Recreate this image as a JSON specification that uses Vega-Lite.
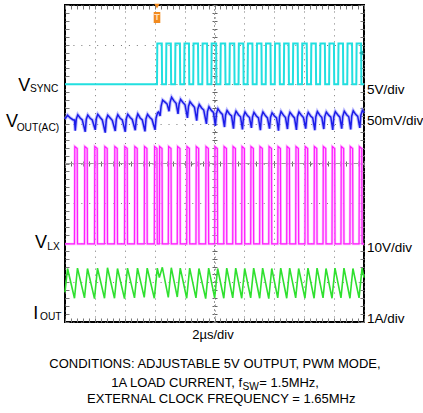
{
 "$schema": "https://vega.github.io/schema/vega-lite/v6.json",
 "width": 299,
 "height": 317,
 "autosize": "none",
 "padding": {"left": 65, "top": 5, "right": 59, "bottom": 91},
 "background": "white",
 "config": {"view": {"stroke": "black", "strokeWidth": 2}, "font": "Liberation Sans"},
 "datasets": {
  "vsync": [{"t":0,"v":6},
   {"t":6.154,"v":6},{"t":6.174,"v":7.03},{"t":6.474,"v":7.03},{"t":6.494,"v":6},
   {"t":6.76,"v":6},{"t":6.78,"v":7.03},{"t":7.08,"v":7.03},{"t":7.1,"v":6},
   {"t":7.366,"v":6},{"t":7.386,"v":7.03},{"t":7.686,"v":7.03},{"t":7.706,"v":6},
   {"t":7.972,"v":6},{"t":7.992,"v":7.03},{"t":8.292,"v":7.03},{"t":8.312,"v":6},
   {"t":8.578,"v":6},{"t":8.598,"v":7.03},{"t":8.898,"v":7.03},{"t":8.918,"v":6},
   {"t":9.184,"v":6},{"t":9.204,"v":7.03},{"t":9.504,"v":7.03},{"t":9.524,"v":6},
   {"t":9.79,"v":6},{"t":9.81,"v":7.03},{"t":10.11,"v":7.03},{"t":10.13,"v":6},
   {"t":10.396,"v":6},{"t":10.416,"v":7.03},{"t":10.716,"v":7.03},{"t":10.736,"v":6},
   {"t":11.002,"v":6},{"t":11.022,"v":7.03},{"t":11.322,"v":7.03},{"t":11.342,"v":6},
   {"t":11.608,"v":6},{"t":11.628,"v":7.03},{"t":11.928,"v":7.03},{"t":11.948,"v":6},
   {"t":12.214,"v":6},{"t":12.234,"v":7.03},{"t":12.534,"v":7.03},{"t":12.554,"v":6},
   {"t":12.82,"v":6},{"t":12.84,"v":7.03},{"t":13.14,"v":7.03},{"t":13.16,"v":6},
   {"t":13.426,"v":6},{"t":13.446,"v":7.03},{"t":13.746,"v":7.03},{"t":13.766,"v":6},
   {"t":14.032,"v":6},{"t":14.052,"v":7.03},{"t":14.352,"v":7.03},{"t":14.372,"v":6},
   {"t":14.638,"v":6},{"t":14.658,"v":7.03},{"t":14.958,"v":7.03},{"t":14.978,"v":6},
   {"t":15.244,"v":6},{"t":15.264,"v":7.03},{"t":15.564,"v":7.03},{"t":15.584,"v":6},
   {"t":15.85,"v":6},{"t":15.87,"v":7.03},{"t":16.17,"v":7.03},{"t":16.19,"v":6},
   {"t":16.456,"v":6},{"t":16.476,"v":7.03},{"t":16.776,"v":7.03},{"t":16.796,"v":6},
   {"t":17.062,"v":6},{"t":17.082,"v":7.03},{"t":17.382,"v":7.03},{"t":17.402,"v":6},
   {"t":17.668,"v":6},{"t":17.688,"v":7.03},{"t":17.988,"v":7.03},{"t":18.008,"v":6},
   {"t":18.274,"v":6},{"t":18.294,"v":7.03},{"t":18.594,"v":7.03},{"t":18.614,"v":6},
   {"t":18.88,"v":6},{"t":18.9,"v":7.03},{"t":19.2,"v":7.03},{"t":19.22,"v":6},
   {"t":19.486,"v":6},{"t":19.506,"v":7.03},{"t":19.806,"v":7.03},{"t":19.826,"v":6},
   {"t":20,"v":6}],
  "vout": [{"t":0,"v":5.12},{"t":0.17,"v":5.22},{"t":0.35,"v":5.15},{"t":0.55,"v":5.1},{"t":0.635,"v":5.1},
   {"t":0.685,"v":4.83},{"t":0.755,"v":5.12},{"t":0.855,"v":5.23},{"t":1.015,"v":5.15},{"t":1.155,"v":5.1},
   {"t":1.354,"v":4.8},{"t":1.424,"v":5.12},{"t":1.524,"v":5.22},{"t":1.684,"v":5.14},{"t":1.824,"v":5.1},
   {"t":2.023,"v":4.85},{"t":2.093,"v":5.13},{"t":2.193,"v":5.24},{"t":2.353,"v":5.16},{"t":2.493,"v":5.1},
   {"t":2.692,"v":4.78},{"t":2.762,"v":5.11},{"t":2.862,"v":5.22},{"t":3.022,"v":5.15},{"t":3.162,"v":5.09},
   {"t":3.361,"v":4.82},{"t":3.431,"v":5.12},{"t":3.531,"v":5.23},{"t":3.691,"v":5.14},{"t":3.831,"v":5.1},
   {"t":4.03,"v":4.8},{"t":4.1,"v":5.13},{"t":4.2,"v":5.24},{"t":4.36,"v":5.16},{"t":4.5,"v":5.11},
   {"t":4.699,"v":4.84},{"t":4.769,"v":5.12},{"t":4.869,"v":5.25},{"t":5.029,"v":5.15},{"t":5.169,"v":5.1},
   {"t":5.35,"v":4.81},{"t":5.42,"v":5.13},{"t":5.52,"v":5.24},{"t":5.68,"v":5.16},{"t":5.82,"v":5.11},
   {"t":6.023,"v":4.85},{"t":6.093,"v":5.15},{"t":6.193,"v":5.28},{"t":6.26,"v":5.3},
   {"t":6.36,"v":5.2},{"t":6.43,"v":5.45},{"t":6.53,"v":5.6},{"t":6.69,"v":5.55},{"t":6.83,"v":5.5},
   {"t":6.96,"v":5.32},{"t":7.03,"v":5.55},{"t":7.13,"v":5.67},{"t":7.29,"v":5.58},{"t":7.43,"v":5.52},
   {"t":7.56,"v":5.25},{"t":7.63,"v":5.5},{"t":7.73,"v":5.62},{"t":7.89,"v":5.54},{"t":8.03,"v":5.48},
   {"t":8.19,"v":5.15},{"t":8.26,"v":5.44},{"t":8.36,"v":5.56},{"t":8.52,"v":5.48},{"t":8.66,"v":5.42},
   {"t":8.81,"v":5.08},{"t":8.88,"v":5.37},{"t":8.98,"v":5.49},{"t":9.14,"v":5.4},{"t":9.28,"v":5.35},
   {"t":9.46,"v":5.0},{"t":9.53,"v":5.31},{"t":9.63,"v":5.43},{"t":9.79,"v":5.34},{"t":9.93,"v":5.29},
   {"t":10.06,"v":4.95},{"t":10.13,"v":5.26},{"t":10.23,"v":5.38},{"t":10.39,"v":5.29},{"t":10.53,"v":5.24},
   {"t":10.67,"v":4.92},{"t":10.74,"v":5.22},{"t":10.84,"v":5.34},{"t":11.0,"v":5.25},{"t":11.14,"v":5.2},
   {"t":11.27,"v":4.88},{"t":11.34,"v":5.2},{"t":11.44,"v":5.32},{"t":11.6,"v":5.23},{"t":11.74,"v":5.18},
   {"t":11.87,"v":4.86},{"t":11.94,"v":5.18},{"t":12.04,"v":5.3},{"t":12.2,"v":5.21},{"t":12.34,"v":5.16},
   {"t":12.47,"v":4.9},{"t":12.54,"v":5.17},{"t":12.64,"v":5.29},{"t":12.8,"v":5.2},{"t":12.94,"v":5.15},
   {"t":13.07,"v":4.84},{"t":13.14,"v":5.18},{"t":13.24,"v":5.3},{"t":13.4,"v":5.21},{"t":13.54,"v":5.15},
   {"t":13.68,"v":4.88},{"t":13.75,"v":5.17},{"t":13.85,"v":5.28},{"t":14.01,"v":5.2},{"t":14.15,"v":5.15},
   {"t":14.28,"v":4.83},{"t":14.35,"v":5.18},{"t":14.45,"v":5.31},{"t":14.61,"v":5.22},{"t":14.75,"v":5.16},
   {"t":14.88,"v":4.87},{"t":14.95,"v":5.17},{"t":15.05,"v":5.29},{"t":15.21,"v":5.21},{"t":15.35,"v":5.15},
   {"t":15.48,"v":4.85},{"t":15.55,"v":5.18},{"t":15.65,"v":5.3},{"t":15.81,"v":5.22},{"t":15.95,"v":5.16},
   {"t":16.1,"v":4.88},{"t":16.17,"v":5.17},{"t":16.27,"v":5.29},{"t":16.43,"v":5.2},{"t":16.57,"v":5.15},
   {"t":16.71,"v":4.84},{"t":16.78,"v":5.18},{"t":16.88,"v":5.31},{"t":17.04,"v":5.22},{"t":17.18,"v":5.16},
   {"t":17.31,"v":4.87},{"t":17.38,"v":5.19},{"t":17.48,"v":5.3},{"t":17.64,"v":5.22},{"t":17.78,"v":5.17},
   {"t":17.91,"v":4.85},{"t":17.98,"v":5.18},{"t":18.08,"v":5.31},{"t":18.24,"v":5.23},{"t":18.38,"v":5.17},
   {"t":18.51,"v":4.88},{"t":18.58,"v":5.19},{"t":18.68,"v":5.32},{"t":18.84,"v":5.23},{"t":18.98,"v":5.18},
   {"t":19.11,"v":4.86},{"t":19.18,"v":5.2},{"t":19.28,"v":5.33},{"t":19.44,"v":5.24},{"t":19.58,"v":5.19},
   {"t":19.72,"v":4.9},{"t":19.79,"v":5.22},{"t":19.89,"v":5.34},{"t":20,"v":5.28}],
  "vlx": [{"t":0,"v":1.97},
   {"t":0.635,"v":1.97},{"t":0.655,"v":4.43},{"t":0.815,"v":4.38},{"t":0.835,"v":1.97},
   {"t":1.304,"v":1.97},{"t":1.324,"v":4.43},{"t":1.484,"v":4.38},{"t":1.504,"v":1.97},
   {"t":1.973,"v":1.97},{"t":1.993,"v":4.43},{"t":2.153,"v":4.38},{"t":2.173,"v":1.97},
   {"t":2.642,"v":1.97},{"t":2.662,"v":4.43},{"t":2.822,"v":4.38},{"t":2.842,"v":1.97},
   {"t":3.311,"v":1.97},{"t":3.331,"v":4.43},{"t":3.491,"v":4.38},{"t":3.511,"v":1.97},
   {"t":3.98,"v":1.97},{"t":4.0,"v":4.43},{"t":4.16,"v":4.38},{"t":4.18,"v":1.97},
   {"t":4.649,"v":1.97},{"t":4.669,"v":4.43},{"t":4.829,"v":4.38},{"t":4.849,"v":1.97},
   {"t":5.3,"v":1.97},{"t":5.32,"v":4.43},{"t":5.48,"v":4.38},{"t":5.5,"v":1.97},
   {"t":5.973,"v":1.97},{"t":5.993,"v":4.43},{"t":6.153,"v":4.38},{"t":6.173,"v":1.97},
   {"t":6.31,"v":1.97},{"t":6.33,"v":4.43},{"t":6.49,"v":4.38},{"t":6.51,"v":1.97},
   {"t":6.91,"v":1.97},{"t":6.93,"v":4.43},{"t":7.09,"v":4.38},{"t":7.11,"v":1.97},
   {"t":7.51,"v":1.97},{"t":7.53,"v":4.43},{"t":7.69,"v":4.38},{"t":7.71,"v":1.97},
   {"t":8.14,"v":1.97},{"t":8.16,"v":4.43},{"t":8.32,"v":4.38},{"t":8.34,"v":1.97},
   {"t":8.76,"v":1.97},{"t":8.78,"v":4.43},{"t":8.94,"v":4.38},{"t":8.96,"v":1.97},
   {"t":9.41,"v":1.97},{"t":9.43,"v":4.43},{"t":9.59,"v":4.38},{"t":9.61,"v":1.97},
   {"t":10.01,"v":1.97},{"t":10.03,"v":4.43},{"t":10.19,"v":4.38},{"t":10.21,"v":1.97},
   {"t":10.62,"v":1.97},{"t":10.64,"v":4.43},{"t":10.8,"v":4.38},{"t":10.82,"v":1.97},
   {"t":11.22,"v":1.97},{"t":11.24,"v":4.43},{"t":11.4,"v":4.38},{"t":11.42,"v":1.97},
   {"t":11.82,"v":1.97},{"t":11.84,"v":4.43},{"t":12.0,"v":4.38},{"t":12.02,"v":1.97},
   {"t":12.42,"v":1.97},{"t":12.44,"v":4.43},{"t":12.6,"v":4.38},{"t":12.62,"v":1.97},
   {"t":13.02,"v":1.97},{"t":13.04,"v":4.43},{"t":13.2,"v":4.38},{"t":13.22,"v":1.97},
   {"t":13.63,"v":1.97},{"t":13.65,"v":4.43},{"t":13.81,"v":4.38},{"t":13.83,"v":1.97},
   {"t":14.23,"v":1.97},{"t":14.25,"v":4.43},{"t":14.41,"v":4.38},{"t":14.43,"v":1.97},
   {"t":14.83,"v":1.97},{"t":14.85,"v":4.43},{"t":15.01,"v":4.38},{"t":15.03,"v":1.97},
   {"t":15.43,"v":1.97},{"t":15.45,"v":4.43},{"t":15.61,"v":4.38},{"t":15.63,"v":1.97},
   {"t":16.05,"v":1.97},{"t":16.07,"v":4.43},{"t":16.23,"v":4.38},{"t":16.25,"v":1.97},
   {"t":16.66,"v":1.97},{"t":16.68,"v":4.43},{"t":16.84,"v":4.38},{"t":16.86,"v":1.97},
   {"t":17.26,"v":1.97},{"t":17.28,"v":4.43},{"t":17.44,"v":4.38},{"t":17.46,"v":1.97},
   {"t":17.86,"v":1.97},{"t":17.88,"v":4.43},{"t":18.04,"v":4.38},{"t":18.06,"v":1.97},
   {"t":18.46,"v":1.97},{"t":18.48,"v":4.43},{"t":18.64,"v":4.38},{"t":18.66,"v":1.97},
   {"t":19.06,"v":1.97},{"t":19.08,"v":4.43},{"t":19.24,"v":4.38},{"t":19.26,"v":1.97},
   {"t":19.67,"v":1.97},{"t":19.69,"v":4.43},{"t":19.85,"v":4.38},{"t":19.87,"v":1.97},
   {"t":20,"v":1.97}],
  "iout": [{"t":0,"v":0.75},{"t":0.17,"v":1.35},
   {"t":0.635,"v":0.6},{"t":0.835,"v":1.36},{"t":1.304,"v":0.61},{"t":1.504,"v":1.35},
   {"t":1.973,"v":0.59},{"t":2.173,"v":1.36},{"t":2.642,"v":0.6},{"t":2.842,"v":1.37},
   {"t":3.311,"v":0.6},{"t":3.511,"v":1.35},{"t":3.98,"v":0.59},{"t":4.18,"v":1.36},
   {"t":4.649,"v":0.61},{"t":4.849,"v":1.36},{"t":5.3,"v":0.62},{"t":5.5,"v":1.36},
   {"t":5.973,"v":0.6},{"t":6.173,"v":1.36},{"t":6.31,"v":1.12},{"t":6.51,"v":1.38},
   {"t":6.91,"v":0.62},{"t":7.11,"v":1.37},{"t":7.51,"v":0.63},{"t":7.71,"v":1.36},
   {"t":8.14,"v":0.6},{"t":8.34,"v":1.36},{"t":8.76,"v":0.61},{"t":8.96,"v":1.35},
   {"t":9.41,"v":0.59},{"t":9.61,"v":1.36},{"t":10.01,"v":0.61},{"t":10.21,"v":1.35},
   {"t":10.62,"v":0.6},{"t":10.82,"v":1.36},{"t":11.22,"v":0.61},{"t":11.42,"v":1.36},
   {"t":11.82,"v":0.6},{"t":12.02,"v":1.35},{"t":12.42,"v":0.61},{"t":12.62,"v":1.36},
   {"t":13.02,"v":0.6},{"t":13.22,"v":1.36},{"t":13.63,"v":0.59},{"t":13.83,"v":1.35},
   {"t":14.23,"v":0.61},{"t":14.43,"v":1.36},{"t":14.83,"v":0.6},{"t":15.03,"v":1.36},
   {"t":15.43,"v":0.61},{"t":15.63,"v":1.35},{"t":16.05,"v":0.6},{"t":16.25,"v":1.36},
   {"t":16.66,"v":0.6},{"t":16.86,"v":1.36},{"t":17.26,"v":0.61},{"t":17.46,"v":1.35},
   {"t":17.86,"v":0.6},{"t":18.06,"v":1.36},{"t":18.46,"v":0.61},{"t":18.66,"v":1.36},
   {"t":19.06,"v":0.6},{"t":19.26,"v":1.35},{"t":19.67,"v":0.61},{"t":19.87,"v":1.36},
   {"t":20,"v":1.12}],
  "lblMain": [{"t":-3.124,"v":5.83,"txt":"V"},{"t":-3.946,"v":4.929,"txt":"V"},{"t":-2.007,"v":1.86,"txt":"V"},{"t":-2.12,"v":0.068,"txt":"I"}],
  "lblSub": [{"t":-2.341,"v":5.804,"txt":"SYNC"},{"t":-3.231,"v":4.828,"txt":"OUT(AC)"},{"t":-1.184,"v":1.817,"txt":"LX"},{"t":-1.672,"v":0.05,"txt":"OUT"}],
  "lblRight": [{"t":20.2,"v":5.754,"txt":"5V/div"},{"t":20.2,"v":4.972,"txt":"50mV/div"},{"t":20.2,"v":1.767,"txt":"10V/div"},{"t":20.2,"v":-0.025,"txt":"1A/div"}],
  "lblCenter": [{"t":9.9,"v":-0.429,"txt":"2µs/div"},{"t":10.03,"v":-1.153,"txt":"CONDITIONS: ADJUSTABLE 5V OUTPUT, PWM MODE,"},{"t":10.45,"v":-2.052,"txt":"EXTERNAL CLOCK FREQUENCY = 1.65MHz"}]
 },
 "resolve": {"axis": {"x": "independent", "y": "independent"}},
 "layer": [
  {"data": {"values": [{"v": 4}]},
   "mark": {"type": "rule", "color": "#9a9a9a", "strokeWidth": 1},
   "encoding": {"y": {"field": "v", "type": "quantitative", "scale": {"domain": [0, 8], "nice": false, "zero": false}, "axis": null}}},
  {"data": {"values": [{"t": 10}]},
   "mark": {"type": "rule", "color": "#9a9a9a", "strokeWidth": 1, "strokeDash": [2, 2]},
   "encoding": {"x": {"field": "t", "type": "quantitative", "scale": {"domain": [0, 20], "nice": false, "zero": false}, "axis": null}}},
  {"data": {"name": "vsync"},
   "mark": {"type": "line", "color": "#22dfe0", "strokeWidth": 2},
   "encoding": {
    "x": {"field": "t", "type": "quantitative", "scale": {"domain": [0, 20], "nice": false, "zero": false},
     "axis": {"values": [0,2,4,6,8,10,12,14,16,18,20], "grid": true, "gridDash": [1, 4.98], "gridColor": "#777", "gridOpacity": 1, "ticks": false, "labels": false, "domain": false, "title": null}},
    "y": {"field": "v", "type": "quantitative", "scale": {"domain": [0, 8], "nice": false, "zero": false},
     "axis": {"values": [0,1,2,3,4,5,6,7,8], "grid": true, "gridDash": [1, 6.925], "gridColor": "#777", "gridOpacity": 1, "ticks": false, "labels": false, "domain": false, "title": null}}}},
  {"data": {"name": "vout"},
   "mark": {"type": "line", "color": "#8c8cff", "strokeWidth": 3.5, "opacity": 0.55},
   "encoding": {
    "x": {"field": "t", "type": "quantitative", "scale": {"domain": [0, 20], "nice": false, "zero": false},
     "axis": {"orient": "bottom", "offset": -4, "values": [0,0.4,0.8,1.2,1.6,2,2.4,2.8,3.2,3.6,4,4.4,4.8,5.2,5.6,6,6.4,6.8,7.2,7.6,8,8.4,8.8,9.2,9.6,10,10.4,10.8,11.2,11.6,12,12.4,12.8,13.2,13.6,14,14.4,14.8,15.2,15.6,16,16.4,16.8,17.2,17.6,18,18.4,18.8,19.2,19.6,20], "tickSize": 4, "tickColor": "#777", "grid": false, "labels": false, "domain": false, "title": null}},
    "y": {"field": "v", "type": "quantitative", "scale": {"domain": [0, 8], "nice": false, "zero": false},
     "axis": {"orient": "left", "offset": -4, "values": [0,0.2,0.4,0.6,0.8,1,1.2,1.4,1.6,1.8,2,2.2,2.4,2.6,2.8,3,3.2,3.4,3.6,3.8,4,4.2,4.4,4.6,4.8,5,5.2,5.4,5.6,5.8,6,6.2,6.4,6.6,6.8,7,7.2,7.4,7.6,7.8,8], "tickSize": 4, "tickColor": "#777", "grid": false, "labels": false, "domain": false, "title": null}}}},
  {"data": {"name": "vout"},
   "mark": {"type": "line", "color": "#1c1ce8", "strokeWidth": 1.5},
   "encoding": {
    "x": {"field": "t", "type": "quantitative", "scale": {"domain": [0, 20], "nice": false, "zero": false},
     "axis": {"orient": "top", "offset": -4, "values": [0,0.4,0.8,1.2,1.6,2,2.4,2.8,3.2,3.6,4,4.4,4.8,5.2,5.6,6,6.4,6.8,7.2,7.6,8,8.4,8.8,9.2,9.6,10,10.4,10.8,11.2,11.6,12,12.4,12.8,13.2,13.6,14,14.4,14.8,15.2,15.6,16,16.4,16.8,17.2,17.6,18,18.4,18.8,19.2,19.6,20], "tickSize": 4, "tickColor": "#777", "grid": false, "labels": false, "domain": false, "title": null}},
    "y": {"field": "v", "type": "quantitative", "scale": {"domain": [0, 8], "nice": false, "zero": false},
     "axis": {"orient": "right", "offset": -4, "values": [0,0.2,0.4,0.6,0.8,1,1.2,1.4,1.6,1.8,2,2.2,2.4,2.6,2.8,3,3.2,3.4,3.6,3.8,4,4.2,4.4,4.6,4.8,5,5.2,5.4,5.6,5.8,6,6.2,6.4,6.6,6.8,7,7.2,7.4,7.6,7.8,8], "tickSize": 4, "tickColor": "#777", "grid": false, "labels": false, "domain": false, "title": null}}}},
  {"data": {"name": "vlx"},
   "mark": {"type": "line", "color": "#ffa6ff", "strokeWidth": 2.6, "opacity": 0.7},
   "encoding": {
    "x": {"field": "t", "type": "quantitative", "scale": {"domain": [0, 20], "nice": false, "zero": false},
     "axis": {"orient": "bottom", "offset": -161, "values": [0,0.4,0.8,1.2,1.6,2,2.4,2.8,3.2,3.6,4,4.4,4.8,5.2,5.6,6,6.4,6.8,7.2,7.6,8,8.4,8.8,9.2,9.6,10,10.4,10.8,11.2,11.6,12,12.4,12.8,13.2,13.6,14,14.4,14.8,15.2,15.6,16,16.4,16.8,17.2,17.6,18,18.4,18.8,19.2,19.6,20], "tickSize": 5, "tickColor": "#666", "grid": false, "labels": false, "domain": false, "title": null}},
    "y": {"field": "v", "type": "quantitative", "scale": {"domain": [0, 8], "nice": false, "zero": false},
     "axis": {"orient": "left", "offset": -152, "values": [0,0.2,0.4,0.6,0.8,1,1.2,1.4,1.6,1.8,2,2.2,2.4,2.6,2.8,3,3.2,3.4,3.6,3.8,4,4.2,4.4,4.6,4.8,5,5.2,5.4,5.6,5.8,6,6.2,6.4,6.6,6.8,7,7.2,7.4,7.6,7.8,8], "tickSize": 5, "tickColor": "#666", "grid": false, "labels": false, "domain": false, "title": null}}}},
  {"data": {"name": "vlx"},
   "mark": {"type": "line", "color": "#ff1cff", "strokeWidth": 1.2},
   "encoding": {
    "x": {"field": "t", "type": "quantitative", "scale": {"domain": [0, 20], "nice": false, "zero": false}, "axis": null},
    "y": {"field": "v", "type": "quantitative", "scale": {"domain": [0, 8], "nice": false, "zero": false}, "axis": null}}},
  {"data": {"name": "iout"},
   "mark": {"type": "line", "color": "#2fe02f", "strokeWidth": 1.6},
   "encoding": {
    "x": {"field": "t", "type": "quantitative", "scale": {"domain": [0, 20], "nice": false, "zero": false}, "axis": null},
    "y": {"field": "v", "type": "quantitative", "scale": {"domain": [0, 8], "nice": false, "zero": false}, "axis": null}}},
  {"data": {"values": [{"t": 6.154, "v": 7.97}]},
   "mark": {"type": "point", "shape": "triangle-down", "filled": true, "color": "#f28a1e", "size": 30, "opacity": 1},
   "encoding": {
    "x": {"field": "t", "type": "quantitative", "scale": {"domain": [0, 20], "nice": false, "zero": false}, "axis": null},
    "y": {"field": "v", "type": "quantitative", "scale": {"domain": [0, 8], "nice": false, "zero": false}, "axis": null}}},
  {"data": {"values": [{"t": 6.154, "v": 7.685}]},
   "mark": {"type": "point", "shape": "M-0.6,-1H0.6V1H-0.6Z", "filled": true, "color": "#f28a1e", "size": 121, "opacity": 1},
   "encoding": {
    "x": {"field": "t", "type": "quantitative", "scale": {"domain": [0, 20], "nice": false, "zero": false}, "axis": null},
    "y": {"field": "v", "type": "quantitative", "scale": {"domain": [0, 8], "nice": false, "zero": false}, "axis": null}}},
  {"data": {"values": [{"t": 6.154, "v": 7.685, "txt": "T"}]},
   "mark": {"type": "text", "color": "#ffe0c0", "fontSize": 9, "fontWeight": "bold", "align": "center", "baseline": "middle", "font": "Liberation Sans"},
   "encoding": {
    "x": {"field": "t", "type": "quantitative", "scale": {"domain": [0, 20], "nice": false, "zero": false}, "axis": null},
    "y": {"field": "v", "type": "quantitative", "scale": {"domain": [0, 8], "nice": false, "zero": false}, "axis": null},
    "text": {"field": "txt"}}},
  {"data": {"values": [{"t": 19.8, "v": 6.79}]},
   "mark": {"type": "point", "shape": "triangle-left", "filled": true, "color": "#22b0b0", "size": 25, "opacity": 1},
   "encoding": {
    "x": {"field": "t", "type": "quantitative", "scale": {"domain": [0, 20], "nice": false, "zero": false}, "axis": null},
    "y": {"field": "v", "type": "quantitative", "scale": {"domain": [0, 8], "nice": false, "zero": false}, "axis": null}}},
  {"data": {"name": "lblMain"},
   "mark": {"type": "text", "align": "left", "baseline": "alphabetic", "fontSize": 18, "font": "Liberation Sans", "color": "black"},
   "encoding": {
    "x": {"field": "t", "type": "quantitative", "scale": {"domain": [0, 20], "nice": false, "zero": false}, "axis": null},
    "y": {"field": "v", "type": "quantitative", "scale": {"domain": [0, 8], "nice": false, "zero": false}, "axis": null},
    "text": {"field": "txt"}}},
  {"data": {"name": "lblSub"},
   "mark": {"type": "text", "align": "left", "baseline": "alphabetic", "fontSize": 10.2, "font": "Liberation Sans", "color": "black"},
   "encoding": {
    "x": {"field": "t", "type": "quantitative", "scale": {"domain": [0, 20], "nice": false, "zero": false}, "axis": null},
    "y": {"field": "v", "type": "quantitative", "scale": {"domain": [0, 8], "nice": false, "zero": false}, "axis": null},
    "text": {"field": "txt"}}},
  {"data": {"name": "lblRight"},
   "mark": {"type": "text", "align": "left", "baseline": "alphabetic", "fontSize": 13.5, "font": "Liberation Sans", "color": "black"},
   "encoding": {
    "x": {"field": "t", "type": "quantitative", "scale": {"domain": [0, 20], "nice": false, "zero": false}, "axis": null},
    "y": {"field": "v", "type": "quantitative", "scale": {"domain": [0, 8], "nice": false, "zero": false}, "axis": null},
    "text": {"field": "txt"}}},
  {"data": {"name": "lblCenter"},
   "mark": {"type": "text", "align": "center", "baseline": "alphabetic", "fontSize": 13, "font": "Liberation Sans", "color": "black"},
   "encoding": {
    "x": {"field": "t", "type": "quantitative", "scale": {"domain": [0, 20], "nice": false, "zero": false}, "axis": null},
    "y": {"field": "v", "type": "quantitative", "scale": {"domain": [0, 8], "nice": false, "zero": false}, "axis": null},
    "text": {"field": "txt"}}},
  {"data": {"values": [{"t": 11.84, "v": -1.633, "txt": "1A LOAD CURRENT, f"}]},
   "mark": {"type": "text", "align": "right", "baseline": "alphabetic", "fontSize": 13, "font": "Liberation Sans", "color": "black"},
   "encoding": {
    "x": {"field": "t", "type": "quantitative", "scale": {"domain": [0, 20], "nice": false, "zero": false}, "axis": null},
    "y": {"field": "v", "type": "quantitative", "scale": {"domain": [0, 8], "nice": false, "zero": false}, "axis": null},
    "text": {"field": "txt"}}},
  {"data": {"values": [{"t": 11.87, "v": -1.72, "txt": "SW"}]},
   "mark": {"type": "text", "align": "left", "baseline": "alphabetic", "fontSize": 10.2, "font": "Liberation Sans", "color": "black"},
   "encoding": {
    "x": {"field": "t", "type": "quantitative", "scale": {"domain": [0, 20], "nice": false, "zero": false}, "axis": null},
    "y": {"field": "v", "type": "quantitative", "scale": {"domain": [0, 8], "nice": false, "zero": false}, "axis": null},
    "text": {"field": "txt"}}},
  {"data": {"values": [{"t": 13.0, "v": -1.633, "txt": "= 1.5MHz,"}]},
   "mark": {"type": "text", "align": "left", "baseline": "alphabetic", "fontSize": 13, "font": "Liberation Sans", "color": "black"},
   "encoding": {
    "x": {"field": "t", "type": "quantitative", "scale": {"domain": [0, 20], "nice": false, "zero": false}, "axis": null},
    "y": {"field": "v", "type": "quantitative", "scale": {"domain": [0, 8], "nice": false, "zero": false}, "axis": null},
    "text": {"field": "txt"}}}
 ]
}
